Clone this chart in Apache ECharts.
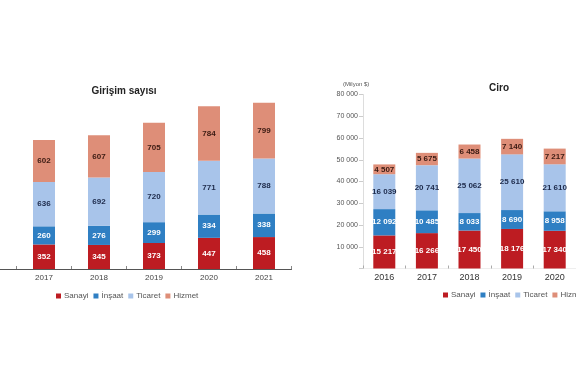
<!DOCTYPE html>
<html><head><meta charset="utf-8">
<script src="https://cdn.jsdelivr.net/npm/echarts@6/dist/echarts.min.js"></script>
<style>html,body{margin:0;padding:0;background:#fff}#c{width:576px;height:375px}</style>
</head><body><div id="c"></div>
<script>
// Left chart: Girişim sayısı
const yearsL = ['2017','2018','2019','2020','2021'];
const sanayiL  = [352, 345, 373, 447, 458];
const insaatL  = [260, 276, 299, 334, 338];
const ticaretL = [636, 692, 720, 771, 788];
const hizmetL  = [602, 607, 705, 784, 799];
// Right chart: Ciro (Milyon $)
const yearsR = ['2016','2017','2018','2019','2020'];
const sanayiR  = [15217, 16266, 17450, 18176, 17340];
const insaatR  = [12092, 10485, 8033, 8690, 8958];
const ticaretR = [16039, 20741, 25062, 25610, 21610];
const hizmetR  = [4507, 5675, 6458, 7140, 7217];
const seriesNames = ['Sanayi','İnşaat','Ticaret','Hizmet'];
const colors = ['#bd1c22','#2f7fc3','#a8c4ea','#de8e78'];
const labelColors = ['#ffffff','#ffffff','#1d2a4a','#3a1a12'];
const fmt = v => { const s = String(Math.round(v)); return s.replace(/\B(?=(\d{3})+(?!\d))/g, ' '); };

const chart = echarts.init(document.getElementById('c'), null, {renderer:'canvas'});
const mk = (name, data, idx, axisIdx) => ({
  name, type:'bar', stack: 'st' + axisIdx, data, barWidth: 22,
  xAxisIndex: axisIdx, yAxisIndex: axisIdx,
  itemStyle:{color: colors[idx]},
  label:{show:true, position:'inside', fontSize:8, fontWeight:'bold', color: labelColors[idx],
         fontFamily:'Liberation Sans', formatter: p => fmt(p.value)}
});
const leftData = [sanayiL, insaatL, ticaretL, hizmetL];
const rightData = [sanayiR, insaatR, ticaretR, hizmetR];
const series = [];
seriesNames.forEach((n,i)=>series.push(mk(n, leftData[i], i, 0)));
seriesNames.forEach((n,i)=>series.push(mk(n, rightData[i], i, 1)));

const legendBase = {
  data: seriesNames, icon:'rect', itemWidth:5, itemHeight:5, itemGap:5, width:300,
  textStyle:{fontSize:8, color:'#555', fontFamily:'Liberation Sans', padding:[0,0,0,-2]}
};
chart.setOption({
  backgroundColor:'#ffffff',
  animation:false,
  color: colors,
  title:[
    {text:'Girişim sayısı', left:119, top:81, textAlign:'center',
     textStyle:{fontSize:10, fontWeight:'bold', color:'#222', fontFamily:'Liberation Sans'}},
    {text:'Ciro', left:494, top:78, textAlign:'center',
     textStyle:{fontSize:10, fontWeight:'bold', color:'#222', fontFamily:'Liberation Sans'}}
  ],
  legend:[
    Object.assign({left:51, top:287}, legendBase),
    Object.assign({left:438, top:286}, legendBase)
  ],
  graphic:[
    {type:'text', left:343, top:81,
     style:{text:'(Milyon $)', fontSize:6, fill:'#555', fontFamily:'Liberation Sans'}},
    {type:'line', shape:{x1:0, y1:269.5, x2:17, y2:269.5}, style:{stroke:'#555', lineWidth:1}}
  ],
  grid:[
    {left:16.5, top:94.7, width:275, height:174.3, containLabel:false},
    {left:363, top:94.5, width:230, height:174, containLabel:false}
  ],
  xAxis:[
    {type:'category', gridIndex:0, data: yearsL,
     axisLine:{lineStyle:{color:'#555', width:1}},
     axisTick:{show:true, inside:true, length:3, lineStyle:{color:'#888'}},
     axisLabel:{fontSize:8, color:'#444', margin:5, fontFamily:'Liberation Sans'}},
    {type:'category', gridIndex:1, data: yearsR,
     axisLine:{show:true, lineStyle:{color:'#eeeeee', width:1}},
     axisTick:{show:true, inside:true, length:3, lineStyle:{color:'#aaa'}},
     axisLabel:{fontSize:9, color:'#333', margin:5, fontFamily:'Liberation Sans'}}
  ],
  yAxis:[
    {type:'value', gridIndex:0, min:0, max:2500, show:false},
    {type:'value', gridIndex:1, min:0, max:80000, interval:10000,
     axisLine:{show:true, lineStyle:{color:'#dddddd'}},
     axisTick:{show:true, length:4, lineStyle:{color:'#cccccc'}},
     splitLine:{show:false},
     axisLabel:{fontSize:7, color:'#555', margin:5, fontFamily:'Liberation Sans',
       formatter: v => v === 0 ? '' : fmt(v)}}
  ],
  series
});
</script></body></html>
